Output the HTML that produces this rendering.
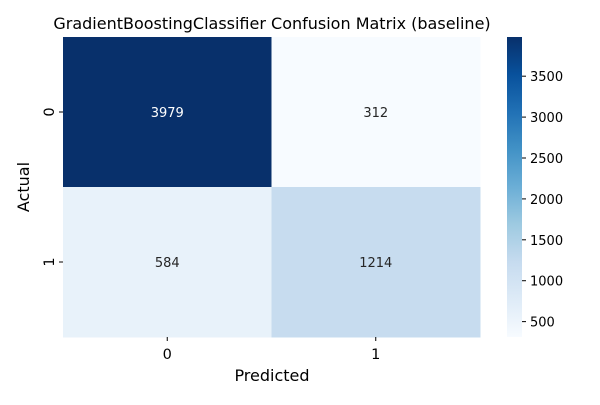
<!DOCTYPE html>
<html><head><meta charset="utf-8"><style>
body{margin:0;background:#fff}
svg text{font-family:"DejaVu Sans","Liberation Sans",sans-serif}
</style></head><body>
<svg id="chart" width="600" height="400" xmlns="http://www.w3.org/2000/svg">
<defs><linearGradient id="cbgrad" x1="0" y1="1" x2="0" y2="0">
<stop offset="0" stop-color="#f7fbff"/><stop offset="0.125" stop-color="#deebf7"/><stop offset="0.25" stop-color="#c6dbef"/><stop offset="0.375" stop-color="#9ecae1"/><stop offset="0.5" stop-color="#6baed6"/><stop offset="0.625" stop-color="#4292c6"/><stop offset="0.75" stop-color="#2171b5"/><stop offset="0.875" stop-color="#08519c"/><stop offset="1" stop-color="#08306b"/>
</linearGradient></defs>
<rect width="600" height="400" fill="#fff"/>
<text x="272" y="29" font-size="16" text-anchor="middle" fill="#000">GradientBoostingClassifier Confusion Matrix (baseline)</text>
<g id="cells"></g>
<g id="axes"></g>
<text x="272" y="381" font-size="16" text-anchor="middle">Predicted</text>
<text transform="translate(29,187) rotate(-90)" font-size="16" text-anchor="middle">Actual</text>
<rect x="507" y="37" width="15" height="300" fill="url(#cbgrad)"/>
<g id="cbticks"></g>
</svg>
<script>
const classLabels = ["0","1"];
const matrixValues = [[3979,312],[584,1214]];
const colorbarTicks = [500,1000,1500,2000,2500,3000,3500];

const NS="http://www.w3.org/2000/svg";
const L=63,T=37,W=417,H=300,CBY0=37,CBH=300;
const flat=matrixValues.flat();
const vmin=Math.min(...flat),vmax=Math.max(...flat);
const stops=["#f7fbff","#deebf7","#c6dbef","#9ecae1","#6baed6","#4292c6","#2171b5","#08519c","#08306b"];
function hex(h){return [1,3,5].map(i=>parseInt(h.substr(i,2),16));}
function cmap(v){let t=(v-vmin)/(vmax-vmin);t=Math.max(0,Math.min(1,t));const p=t*8,i=Math.min(7,Math.floor(p)),f=p-i;const a=hex(stops[i]),b=hex(stops[i+1]);return "rgb("+a.map((x,k)=>Math.round(x+(b[k]-x)*f)).join(",")+")";}
function mk(tag,attrs,parent){const e=document.createElementNS(NS,tag);for(const k in attrs)e.setAttribute(k,attrs[k]);parent.appendChild(e);return e;}
const n=classLabels.length,cw=W/n,ch=H/n;
const cells=document.getElementById("cells"),axes=document.getElementById("axes"),cbt=document.getElementById("cbticks");
matrixValues.forEach((row,r)=>row.forEach((v,c)=>{
 const rc=mk("rect",{x:L+c*cw,y:T+r*ch,width:cw+0.5,height:ch+0.5,fill:cmap(v)},cells);
 
 
 const t=mk("text",{x:L+(c+0.5)*cw,y:T+(r+0.5)*ch+5,"font-size":13,"text-anchor":"middle",fill:((v-vmin)/(vmax-vmin)>0.5)?"#fff":"#262626"},cells);
 t.textContent=v;
 
 
}));
classLabels.forEach((lab,i)=>{
 const x=L+(i+0.5)*cw;
 const tk=mk("line",{x1:x,x2:x,y1:T+H,y2:T+H+4,stroke:"#000","stroke-width":1},axes);
 
 
 const tx=mk("text",{x:x,y:T+H+22,"font-size":14.5,"text-anchor":"middle"},axes);
 tx.textContent=lab;
 
 
 const y=T+(i+0.5)*ch;
 const ty=mk("line",{x1:L-4,x2:L,y1:y,y2:y,stroke:"#000","stroke-width":1},axes);
 
 
 const yl=mk("text",{transform:"translate("+(L-9)+","+y+") rotate(-90)","font-size":14.5,"text-anchor":"middle"},axes);
 yl.textContent=lab;
 
 
});
colorbarTicks.forEach(v=>{
 const y=CBY0+CBH-(v-vmin)/(vmax-vmin)*CBH;
 const l=mk("line",{x1:522,x2:526,y1:y,y2:y,stroke:"#000","stroke-width":1},cbt);
 
 
 const t=mk("text",{x:530,y:y+5,"font-size":13},cbt);
 t.textContent=v;
 
 
});
</script>
</body></html>
